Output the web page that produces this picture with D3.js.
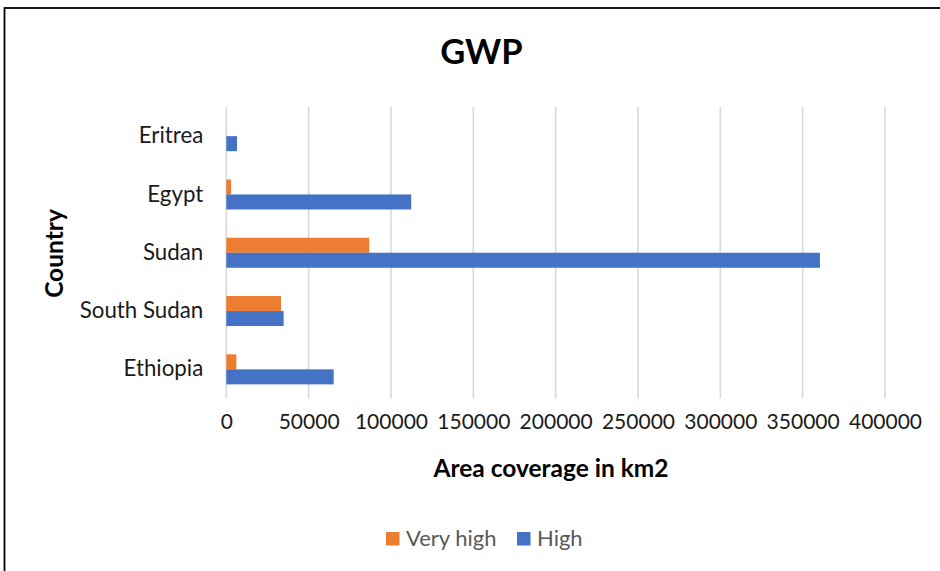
<!DOCTYPE html>
<html>
<head>
<meta charset="utf-8">
<script src="https://cdn.jsdelivr.net/npm/d3@7"></script>
<style>
  html, body { margin: 0; padding: 0; background: #fff; }
  svg { display: block; font-family: Lato, "Open Sans", sans-serif; }
</style>
</head>
<body>
<svg id="chart" width="940" height="571"></svg>
<script>
// Countries, listed top to bottom as they appear on the category axis
const countries = ["Eritrea", "Egypt", "Sudan", "South Sudan", "Ethiopia"];
const seriesNames = ["Very high", "High"];
const seriesColors = ["#ED7D31", "#4472C4"];
// Area coverage (km2) per country
const veryHigh = [0, 2900, 86800, 33200, 6100];
const high = [6500, 112300, 360500, 34800, 65200];
const xTicks = [0, 50000, 100000, 150000, 200000, 250000, 300000, 350000, 400000];

const svg = d3.select("#chart");
const W = 940, H = 571;

svg.append("rect").attr("width", W).attr("height", H).attr("fill", "#fff");

// chart frame (right and bottom edges fall outside the view)
svg.append("rect")
  .attr("x", 4.5).attr("y", 8)
  .attr("width", 1000).attr("height", 1000)
  .attr("fill", "none").attr("stroke", "#000").attr("stroke-width", 1.8);

const plot = { left: 226.3, right: 885, top: 107, bottom: 398.5 };

const x = d3.scaleLinear().domain([0, 400000]).range([plot.left, plot.right]);
const y = d3.scaleBand().domain(countries).range([plot.top, plot.bottom])
  .paddingInner(0.485).paddingOuter(0.2425);
const ySub = d3.scaleBand().domain(seriesNames).range([0, y.bandwidth()]);

// vertical gridlines
svg.append("g")
  .selectAll("line")
  .data(xTicks)
  .join("line")
  .attr("x1", d => x(d)).attr("x2", d => x(d))
  .attr("y1", plot.top).attr("y2", plot.bottom)
  .attr("stroke", "#D9D9D9").attr("stroke-width", 1.6);

// x axis tick labels
const xAxis = d3.axisBottom(x).tickValues(xTicks).tickSize(0).tickPadding(0)
  .tickFormat(d3.format("d"));
const gx = svg.append("g")
  .attr("transform", `translate(0,${plot.bottom + 16})`)
  .call(xAxis);
gx.select(".domain").remove();
gx.selectAll("text")
  .attr("font-family", "Lato, sans-serif")
  .attr("font-size", 21)
  .attr("fill", "#1a1a1a");

// category labels
const yAxis = d3.axisLeft(y).tickSize(0).tickPadding(0);
const gy = svg.append("g")
  .attr("transform", `translate(${plot.left - 23},0)`)
  .call(yAxis);
gy.select(".domain").remove();
gy.selectAll("text")
  .attr("font-family", "Lato, sans-serif")
  .attr("font-size", 22.3)
  .attr("fill", "#1a1a1a");

// bars
const rows = countries.map((c, i) => ({ country: c, values: [veryHigh[i], high[i]] }));
const groups = svg.append("g").selectAll("g")
  .data(rows)
  .join("g")
  .attr("transform", d => `translate(0,${y(d.country)})`);
groups.selectAll("rect")
  .data(d => d.values.map((v, j) => ({ name: seriesNames[j], value: v, color: seriesColors[j] })))
  .join("rect")
  .attr("x", x(0))
  .attr("y", d => ySub(d.name))
  .attr("width", d => x(d.value) - x(0))
  .attr("height", ySub.bandwidth())
  .attr("fill", d => d.color);

// title
svg.append("text")
  .attr("x", 481.5).attr("y", 64)
  .attr("text-anchor", "middle")
  .attr("font-size", 34.5).attr("font-weight", "bold")
  .attr("fill", "#000")
  .text("GWP");

// axis titles
svg.append("text")
  .attr("x", 551).attr("y", 477)
  .attr("text-anchor", "middle")
  .attr("font-size", 24.5).attr("font-weight", "bold")
  .attr("fill", "#000")
  .text("Area coverage in km2");

svg.append("text")
  .attr("transform", "translate(63,253.5) rotate(-90)")
  .attr("text-anchor", "middle")
  .attr("font-size", 24.5).attr("font-weight", "bold")
  .attr("fill", "#000")
  .text("Country");

// legend
const legendItems = [
  { name: seriesNames[0], color: seriesColors[0], x: 386 },
  { name: seriesNames[1], color: seriesColors[1], x: 517 }
];
const lg = svg.append("g").selectAll("g").data(legendItems).join("g")
  .attr("transform", d => `translate(${d.x},0)`);
lg.append("rect")
  .attr("x", 0).attr("y", 532).attr("width", 13.5).attr("height", 13.5)
  .attr("fill", d => d.color);
lg.append("text")
  .attr("x", 20).attr("y", 545.5)
  .attr("font-size", 22).attr("fill", "#595959")
  .text(d => d.name);
</script>
</body>
</html>
